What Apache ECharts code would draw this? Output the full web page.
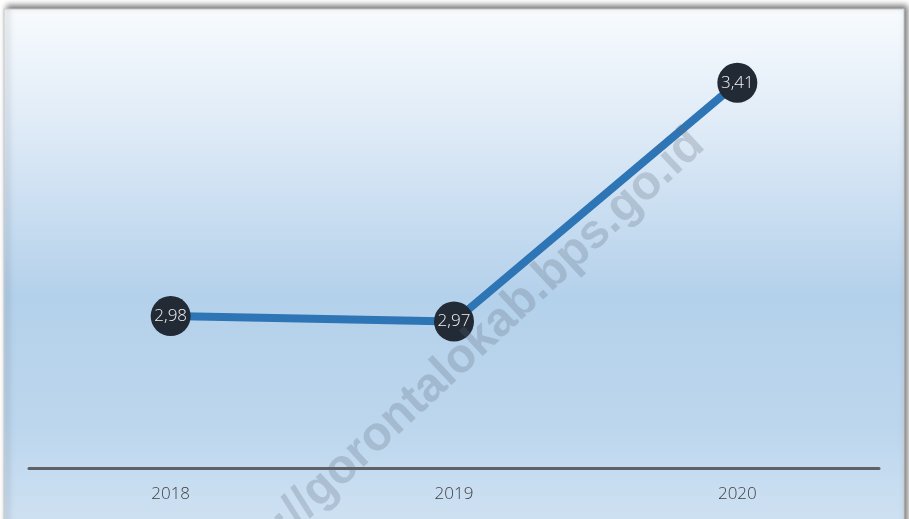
<!DOCTYPE html>
<html>
<head>
<meta charset="utf-8">
<script src="https://cdn.jsdelivr.net/npm/echarts@6/dist/echarts.min.js"></script>
<style>
html,body{margin:0;padding:0;background:#ffffff;}
#chart{width:909px;height:519px;}
</style>
</head>
<body>
<div id="chart"></div>
<script>
const categories = ['2018', '2019', '2020'];
const values = [2.98, 2.97, 3.41];
const watermarkText = 'https://gorontalokab.bps.go.id';

const chart = echarts.init(document.getElementById('chart'));
chart.setOption({
  animation: false,
  graphic: [
    {
      type: 'rect', z: -10, silent: true,
      shape: { x: 4, y: 9, width: 900, height: 520 },
      style: {
        fill: new echarts.graphic.LinearGradient(0, 0, 0, 1, [
          { offset: 0, color: '#f8fbfe' },
          { offset: 0.25, color: '#dce9f6' },
          { offset: 0.55, color: '#b4d1eb' },
          { offset: 0.8, color: '#bcd6ed' },
          { offset: 1, color: '#d0e2f3' }
        ]),
        stroke: '#c8c8c8', lineWidth: 1,
        shadowBlur: 6, shadowOffsetX: 3, shadowOffsetY: -3,
        shadowColor: 'rgba(0,0,0,0.55)'
      }
    },
    {
      type: 'text', z: 100, silent: true,
      x: 445, y: 373, rotation: 43 * Math.PI / 180,
      style: {
        text: watermarkText,
        fill: 'rgba(90,105,120,0.25)',
        font: 'bold 48px "Liberation Sans", Arial, sans-serif',
        align: 'center', verticalAlign: 'middle'
      }
    }
  ],
  grid: { left: 29, right: 30, top: 34, bottom: 51 },
  xAxis: {
    type: 'category',
    data: categories,
    boundaryGap: true,
    axisLine: { lineStyle: { color: '#5f6166', width: 3 } },
    axisTick: { show: false },
    axisLabel: { color: '#404040', fontSize: 17, margin: 18, fontFamily: 'Open Sans', fontWeight: 300 }
  },
  yAxis: {
    type: 'value', min: 2.7, max: 3.5,
    show: false,
    splitLine: { show: false }
  },
  series: [{
    type: 'line',
    data: values,
    symbol: 'circle',
    symbolSize: 40,
    lineStyle: { color: '#2e75b6', width: 8 },
    itemStyle: { color: '#222a36' },
    label: {
      show: true, position: 'inside',
      color: '#f2f2f2', fontSize: 17, fontFamily: 'Open Sans', fontWeight: 300,
      formatter: p => p.value.toFixed(2).replace('.', ',')
    }
  }]
});
</script>
</body>
</html>
